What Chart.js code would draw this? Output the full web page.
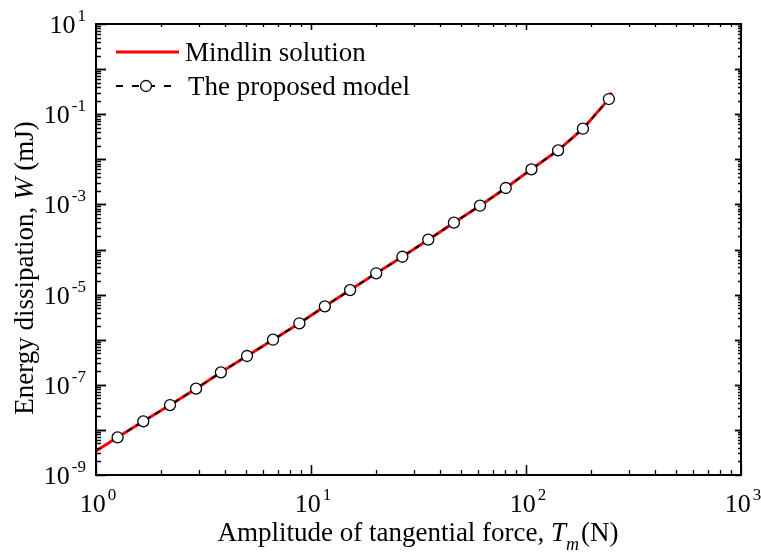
<!DOCTYPE html>
<html>
<head>
<meta charset="utf-8">
<script src="https://cdn.jsdelivr.net/npm/chart.js@4"></script>
<style>
  body { margin: 0; background: #fff; }
  #wrap { width: 761px; height: 556px; }
</style>
</head>
<body>
<div id="wrap"><canvas id="myChart" width="761" height="556"></canvas></div>
<script>
// Mindlin solution (red solid line)
const forceMindlin = [1, 1.26, 1.66, 2.21, 2.92, 3.81, 5.04, 6.66, 8.83, 11.6, 15.2, 20.1, 26.6, 35.1, 46.2, 61.1, 80.5, 106, 141, 184, 243, 250];
const energyMindlin = [3.4e-9, 6.85e-9, 1.55e-8, 3.56e-8, 8.2e-8, 1.89e-7, 4.35e-7, 1.0e-6, 2.31e-6, 5.5e-6, 1.26e-5, 2.97e-5, 6.9e-5, 1.65e-4, 3.93e-4, 9.35e-4, 2.31e-3, 6.0e-3, 1.58e-2, 4.77e-2, 0.217, 0.30];

// The proposed model (dashed line + open circles)
const forceModel = [1.26, 1.66, 2.21, 2.92, 3.81, 5.04, 6.66, 8.83, 11.6, 15.2, 20.1, 26.6, 35.1, 46.2, 61.1, 80.5, 106, 141, 184, 243];
const energyModel = [6.85e-9, 1.55e-8, 3.56e-8, 8.2e-8, 1.89e-7, 4.35e-7, 1.0e-6, 2.31e-6, 5.5e-6, 1.26e-5, 2.97e-5, 6.9e-5, 1.65e-4, 3.93e-4, 9.35e-4, 2.31e-3, 6.0e-3, 1.58e-2, 4.77e-2, 0.217];

// Tick labels (powers of ten)
const xTickExps = [0, 1, 2, 3];
const yTickExps = [1, -1, -3, -5, -7, -9];

const legendLabels = ['Mindlin solution', 'The proposed model'];

const SERIF = '"Liberation Serif", "Times New Roman", serif';

// dibuja texto con segmentos (normal, cursiva, subindice)
function drawRich(ctx, segs, x, y, align) {
    let total = 0;
    segs.forEach(s => {
        ctx.font = s.font;
        s.w = ctx.measureText(s.text).width + (s.gap || 0);
        total += s.w;
    });
    let cx = align === 'center' ? x - total / 2 : (align === 'right' ? x - total : x);
    segs.forEach(s => {
        ctx.font = s.font;
        ctx.textAlign = 'left';
        ctx.textBaseline = 'alphabetic';
        ctx.fillText(s.text, cx + (s.gap || 0), y + (s.dy || 0));
        cx += s.w;
    });
}

function pow10(exp) {
    return [
        { text: '10', font: '26px ' + SERIF },
        { text: String(exp), font: '17px ' + SERIF, dy: -12, gap: 2 }
    ];
}

const framePlugin = {
    id: 'frame',
    afterDraw(chart) {
        const ctx = chart.ctx;
        const a = chart.chartArea;
        const xs = chart.scales.x, ys = chart.scales.y;
        ctx.save();
        ctx.fillStyle = '#000';
        ctx.strokeStyle = '#000';

        // marco
        ctx.lineWidth = 2;
        ctx.strokeRect(a.left, a.top, a.right - a.left, a.bottom - a.top);

        // ticks eje x
        ctx.lineWidth = 1.3;
        for (let e = 0; e < 3; e++) {
            for (let m = 1; m <= 10; m++) {
                const v = m * Math.pow(10, e);
                const px = Math.round(xs.getPixelForValue(v)) + 0.5;
                const major = (m === 1 || m === 10);
                ctx.beginPath();
                ctx.moveTo(px, a.bottom);
                ctx.lineTo(px, a.bottom - (major ? 10 : 5));
                ctx.moveTo(px, a.top);
                ctx.lineTo(px, a.top + (major ? 6 : 3));
                ctx.stroke();
            }
        }
        // ticks eje y
        for (let e = -9; e < 1; e++) {
            for (let m = 1; m <= 10; m++) {
                const v = m * Math.pow(10, e);
                const py = Math.round(ys.getPixelForValue(v)) + 0.5;
                const major = (m === 1 || m === 10);
                ctx.beginPath();
                ctx.moveTo(a.left, py);
                ctx.lineTo(a.left + (major ? 10 : 5), py);
                ctx.moveTo(a.right, py);
                ctx.lineTo(a.right - (major ? 6 : 3), py);
                ctx.stroke();
            }
        }

        // etiquetas x
        xTickExps.forEach(e => {
            const px = xs.getPixelForValue(Math.pow(10, e));
            drawRich(ctx, pow10(e), px + 2, a.bottom + 37, 'center');
        });
        // etiquetas y
        yTickExps.forEach(e => {
            const py = ys.getPixelForValue(Math.pow(10, e));
            drawRich(ctx, pow10(e), a.left - 10, py + 9, 'right');
        });

        // titulo eje x
        drawRich(ctx, [
            { text: 'Amplitude of tangential force, ', font: '27px ' + SERIF },
            { text: 'T', font: 'italic 27px ' + SERIF },
            { text: 'm', font: 'italic 18px ' + SERIF, dy: 9 },
            { text: '(N)', font: '27px ' + SERIF, gap: 2 }
        ], 418, 541, 'center');

        // titulo eje y
        ctx.save();
        ctx.translate(33, 268);
        ctx.rotate(-Math.PI / 2);
        drawRich(ctx, [
            { text: 'Energy dissipation, ', font: '27px ' + SERIF },
            { text: 'W', font: 'italic 27px ' + SERIF },
            { text: ' (mJ)', font: '27px ' + SERIF }
        ], 0, 0, 'center');
        ctx.restore();

        // leyenda
        ctx.strokeStyle = '#ff0000';
        ctx.lineWidth = 3;
        ctx.beginPath();
        ctx.moveTo(116, 52);
        ctx.lineTo(179, 52);
        ctx.stroke();
        ctx.font = '27px ' + SERIF;
        ctx.textAlign = 'left';
        ctx.textBaseline = 'alphabetic';
        ctx.fillText(legendLabels[0], 185, 61);

        ctx.strokeStyle = '#000';
        ctx.lineWidth = 1.8;
        ctx.setLineDash([7, 9]);
        ctx.beginPath();
        ctx.moveTo(116, 86);
        ctx.lineTo(172, 86);
        ctx.stroke();
        ctx.setLineDash([]);
        ctx.fillStyle = '#fff';
        ctx.lineWidth = 1.3;
        ctx.beginPath();
        ctx.arc(146, 86, 5.5, 0, Math.PI * 2);
        ctx.fill();
        ctx.stroke();
        ctx.fillStyle = '#000';
        ctx.fillText(legendLabels[1], 188, 95);

        ctx.restore();
    }
};

const ctx = document.getElementById('myChart').getContext('2d');
const myChart = new Chart(ctx, {
    type: 'scatter',
    data: {
        datasets: [
            {
                label: legendLabels[1],
                data: forceModel.map((f, i) => ({ x: f, y: energyModel[i] })),
                showLine: true,
                borderColor: '#000',
                borderWidth: 1.8,
                borderDash: [6, 5],
                pointRadius: 5.5,
                pointBackgroundColor: '#fff',
                pointBorderColor: '#000',
                pointBorderWidth: 1.3,
                order: 0
            },
            {
                label: legendLabels[0],
                data: forceMindlin.map((f, i) => ({ x: f, y: energyMindlin[i] })),
                showLine: true,
                borderColor: '#ff0000',
                borderWidth: 3,
                pointRadius: 0,
                order: 1
            }
        ]
    },
    options: {
        responsive: false,
        animation: false,
        layout: { padding: { left: 96, right: 20, top: 24, bottom: 81 } },
        scales: {
            x: { type: 'logarithmic', min: 1, max: 1000, display: false },
            y: { type: 'logarithmic', min: 1e-9, max: 10, display: false }
        },
        plugins: {
            legend: { display: false },
            tooltip: { enabled: false }
        }
    },
    plugins: [framePlugin]
});
</script>
</body>
</html>
